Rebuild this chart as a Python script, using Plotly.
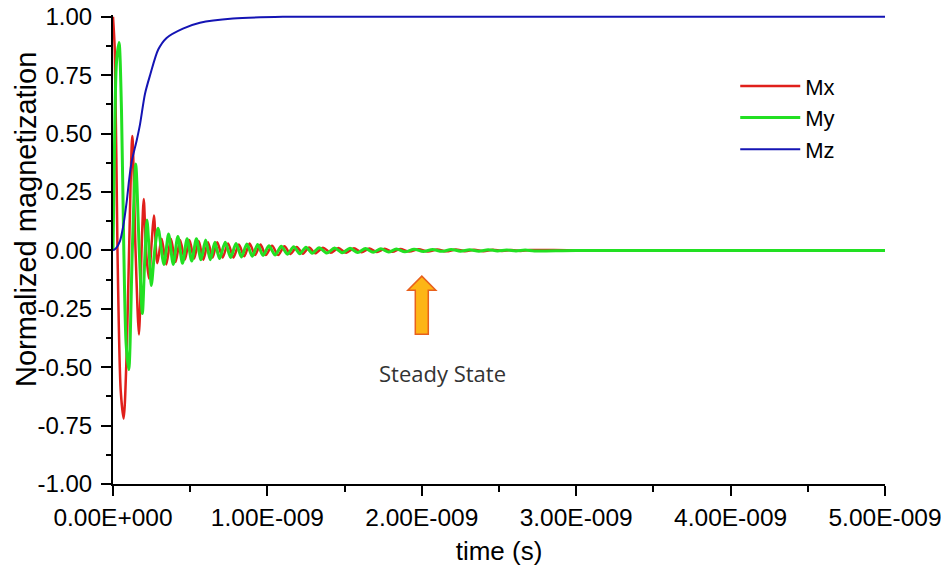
import plotly.graph_objects as go

# ---- data (time in ns) ----
mx_t = [0, 0.012, 0.029, 0.05, 0.069, 0.088, 0.104, 0.125, 0.146, 0.168, 0.185, 0.199, 0.214, 0.232, 0.25, 0.265, 0.287,
        0.315, 0.345, 0.375, 0.405, 0.435, 0.465, 0.495, 0.525, 0.555, 0.585, 0.615, 0.645, 0.675,
        0.71, 0.745, 0.78, 0.815, 0.85, 0.885, 0.92, 0.955, 0.99,
        1.03, 1.07, 1.11, 1.15, 1.19, 1.23, 1.27, 1.31,
        1.36, 1.41, 1.46, 1.51, 1.56, 1.61, 1.66, 1.71, 1.76, 1.81, 1.86,
        1.92, 1.98, 2.04, 2.10, 2.16, 2.22, 2.28, 2.34, 2.40, 2.46, 2.52, 2.58, 2.64, 2.70,
        3.0, 5.0]
mx_v = [1.0, 0.85, 0.0, -0.6, -0.72, -0.45, 0.0, 0.49, 0.0, -0.36, 0.0, 0.22, 0.0, -0.12, 0.03, 0.15, -0.055,
        0.05, -0.06, 0.05, -0.05, 0.045, -0.04, 0.045, -0.035, 0.04, -0.04, 0.035, -0.03, 0.035,
        -0.03, 0.03, -0.03, 0.025, -0.025, 0.03, -0.02, 0.025, -0.02,
        0.02, -0.02, 0.018, -0.015, 0.015, -0.014, 0.013, -0.012,
        0.012, -0.01, 0.01, -0.01, 0.009, -0.008, 0.008, -0.007, 0.007, -0.006, 0.006,
        -0.005, 0.005, -0.005, 0.004, -0.004, 0.004, -0.003, 0.003, -0.003, 0.003, -0.002, 0.002, -0.002, 0.002,
        0.0, 0.0]

my_t = [0, 0.01, 0.022, 0.039, 0.055, 0.07, 0.085, 0.102, 0.125, 0.147, 0.17, 0.19, 0.205, 0.22, 0.234, 0.248, 0.27, 0.292,
        0.33, 0.36, 0.39, 0.42, 0.45, 0.48, 0.51, 0.54, 0.57, 0.60, 0.63, 0.66, 0.69,
        0.727, 0.762, 0.797, 0.832, 0.867, 0.902, 0.937, 0.972, 1.01,
        1.05, 1.09, 1.13, 1.17, 1.21, 1.25, 1.29, 1.335,
        1.385, 1.435, 1.485, 1.535, 1.585, 1.635, 1.685, 1.735, 1.785, 1.835, 1.89,
        1.95, 2.01, 2.07, 2.13, 2.19, 2.25, 2.31, 2.37, 2.43, 2.49, 2.55, 2.61, 2.67, 2.73,
        3.0, 5.0]
my_v = [0.0, 0.45, 0.8, 0.89, 0.6, 0.0, -0.4, -0.51, 0.0, 0.37, 0.0, -0.27, -0.05, 0.13, 0.0, -0.15, 0.0, 0.095,
        -0.06, 0.07, -0.06, 0.06, -0.055, 0.05, -0.045, 0.05, -0.04, 0.045, -0.04, 0.035, -0.035,
        0.035, -0.03, 0.03, -0.028, 0.028, -0.025, 0.025, -0.022, 0.02,
        -0.02, 0.018, -0.016, 0.016, -0.014, 0.014, -0.012, 0.012,
        -0.011, 0.01, -0.01, 0.009, -0.009, 0.008, -0.008, 0.007, -0.007, 0.006, -0.006,
        0.005, -0.005, 0.004, -0.004, 0.004, -0.003, 0.003, -0.003, 0.003, -0.002, 0.002, -0.002, 0.002, -0.002,
        0.0, 0.0]

mz_t = [0, 0.02, 0.045, 0.065, 0.089, 0.104, 0.121, 0.153, 0.175, 0.207, 0.24, 0.293, 0.347, 0.453, 0.563, 0.777, 1.1, 5.0]
mz_v = [0.0, 0.01, 0.04, 0.10, 0.21, 0.30, 0.38, 0.47, 0.54, 0.67, 0.75, 0.86, 0.91, 0.95, 0.975, 0.993, 1.0, 1.0]

x_tick_vals = [0, 1, 2, 3, 4, 5]
x_tick_text = ["0.00E+000", "1.00E-009", "2.00E-009", "3.00E-009", "4.00E-009", "5.00E-009"]
y_tick_vals = [-1.0, -0.75, -0.5, -0.25, 0.0, 0.25, 0.5, 0.75, 1.0]
y_tick_text = ["-1.00", "-0.75", "-0.50", "-0.25", "0.00", "0.25", "0.50", "0.75", "1.00"]

FONT = "Liberation Sans, Arial, sans-serif"

fig = go.Figure()
fig.add_trace(go.Scatter(x=mx_t, y=mx_v, mode="lines", name="Mx",
                         line=dict(color="#E0201B", width=2.5, shape="spline", smoothing=0.8)))
fig.add_trace(go.Scatter(x=my_t, y=my_v, mode="lines", name="My",
                         line=dict(color="#22E022", width=3, shape="spline", smoothing=0.8)))
fig.add_trace(go.Scatter(x=mz_t, y=mz_v, mode="lines", name="Mz",
                         line=dict(color="#1414B4", width=2, shape="spline", smoothing=0.8)))

# Steady state arrow (pixel-sized, anchored in data space)
fig.add_shape(type="path", xref="x", yref="y", xsizemode="pixel", ysizemode="pixel",
              xanchor=2.0, yanchor=-0.11,
              path="M0,0 L14,-14 L6.5,-14 L6.5,-58 L-6.5,-58 L-6.5,-14 L-14,-14 Z",
              fillcolor="#FDB515", line=dict(color="#E8601C", width=1.5), layer="above")

fig.add_annotation(x=2.134, y=-0.524, xref="x", yref="y", text="Steady State", showarrow=False,
                   font=dict(family="Open Sans, Lato, sans-serif", size=22, color="#333333"))

# y-axis title (placed slightly above the axis centre, as in the original)
fig.add_annotation(x=0, y=0.563, xref="paper", yref="paper", xshift=-87, textangle=-90,
                   xanchor="center", yanchor="middle", showarrow=False,
                   text="Normalized magnetization",
                   font=dict(family=FONT, size=29, color="black"))

# the page body adds an 8px offset; size the figure so the page does not overflow the window
fig.update_layout(
    width=933, height=559,
    margin=dict(l=105, r=56, t=7, b=83),
    paper_bgcolor="white", plot_bgcolor="white",
    font=dict(family=FONT, color="black"),
    showlegend=True,
    legend=dict(x=0.806, y=0.893, xanchor="left", yanchor="top",
                font=dict(family=FONT, size=22, color="black"),
                bgcolor="rgba(0,0,0,0)", itemwidth=60),
)
fig.update_xaxes(range=[0, 5], showgrid=False, zeroline=False, automargin=False,
                 showline=True, linecolor="black", linewidth=2,
                 ticks="outside", ticklen=10, tickwidth=2, tickcolor="black",
                 tickvals=x_tick_vals, ticktext=x_tick_text, ticklabeloverflow="allow",
                 tickfont=dict(family=FONT, size=24.5), ticklabelstandoff=1,
                 minor=dict(dtick=0.5, ticks="outside", ticklen=6, tickwidth=2, tickcolor="black"),
                 title=dict(text="time (s)", font=dict(family=FONT, size=26), standoff=11))
fig.update_yaxes(range=[-1, 1.008], showgrid=False, zeroline=False, automargin=False,
                 showline=True, linecolor="black", linewidth=2,
                 ticks="outside", ticklen=10, tickwidth=2, tickcolor="black",
                 tickvals=y_tick_vals, ticktext=y_tick_text, ticklabeloverflow="allow",
                 tickfont=dict(family=FONT, size=24), ticklabelstandoff=4,
                 minor=dict(dtick=0.125, tick0=0, ticks="outside", ticklen=5, tickwidth=2, tickcolor="black"))

fig.write_html("out.html")
